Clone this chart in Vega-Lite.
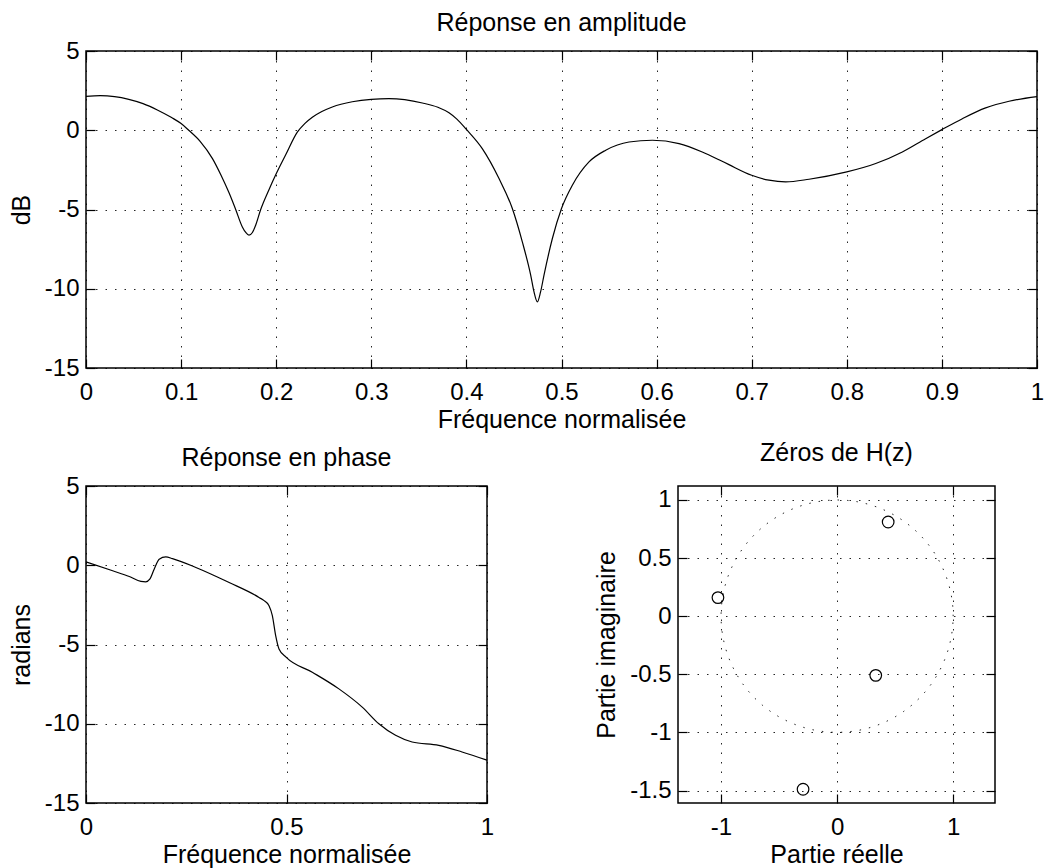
{
  "$schema": "https://vega.github.io/schema/vega-lite/v6.json",
  "background": "white",
  "padding": {"left": 8, "top": 10, "right": 5, "bottom": 5},
  "datasets": {
    "amp": [
      {"f": 0, "db": 2.14}, {"f": 0.015, "db": 2.18}, {"f": 0.03, "db": 2.12}, {"f": 0.045, "db": 1.95},
      {"f": 0.06, "db": 1.68}, {"f": 0.075, "db": 1.28}, {"f": 0.09, "db": 0.8}, {"f": 0.1, "db": 0.42},
      {"f": 0.108, "db": 0}, {"f": 0.12, "db": -0.7}, {"f": 0.133, "db": -1.79}, {"f": 0.142, "db": -2.84},
      {"f": 0.1504, "db": -3.95}, {"f": 0.1574, "db": -5.0}, {"f": 0.1644, "db": -6.1}, {"f": 0.168, "db": -6.45},
      {"f": 0.1714, "db": -6.62}, {"f": 0.175, "db": -6.45}, {"f": 0.1784, "db": -5.99}, {"f": 0.1837, "db": -5.0},
      {"f": 0.1924, "db": -3.75}, {"f": 0.2, "db": -2.75}, {"f": 0.21, "db": -1.55}, {"f": 0.2222, "db": -0.12},
      {"f": 0.23, "db": 0.42}, {"f": 0.238, "db": 0.82}, {"f": 0.248, "db": 1.18}, {"f": 0.259, "db": 1.47},
      {"f": 0.28, "db": 1.8}, {"f": 0.3, "db": 1.95}, {"f": 0.3186, "db": 1.99}, {"f": 0.3537, "db": 1.72},
      {"f": 0.37, "db": 1.45}, {"f": 0.3817, "db": 1.1}, {"f": 0.39, "db": 0.7}, {"f": 0.4, "db": 0.05},
      {"f": 0.4167, "db": -1.16}, {"f": 0.4343, "db": -3.05}, {"f": 0.4483, "db": -4.94}, {"f": 0.4588, "db": -7.04},
      {"f": 0.4676, "db": -9.14}, {"f": 0.4711, "db": -10.2}, {"f": 0.4746, "db": -10.83}, {"f": 0.478, "db": -10.2},
      {"f": 0.4816, "db": -9.14}, {"f": 0.4904, "db": -6.83}, {"f": 0.5, "db": -4.94}, {"f": 0.5114, "db": -3.47},
      {"f": 0.5289, "db": -2.0}, {"f": 0.5465, "db": -1.26}, {"f": 0.571, "db": -0.74}, {"f": 0.5955, "db": -0.63},
      {"f": 0.6236, "db": -0.84}, {"f": 0.648, "db": -1.37}, {"f": 0.6656, "db": -1.86}, {"f": 0.6761, "db": -2.17},
      {"f": 0.7, "db": -2.84}, {"f": 0.7182, "db": -3.15}, {"f": 0.7357, "db": -3.26}, {"f": 0.7603, "db": -3.09},
      {"f": 0.8, "db": -2.63}, {"f": 0.8304, "db": -2.1}, {"f": 0.8584, "db": -1.37}, {"f": 0.8829, "db": -0.53},
      {"f": 0.9, "db": 0.04}, {"f": 0.9215, "db": 0.73}, {"f": 0.946, "db": 1.41}, {"f": 0.9706, "db": 1.83},
      {"f": 1.0, "db": 2.12}
    ],
    "phase": [
      {"f": 0, "rad": 0.21}, {"f": 0.0664, "rad": -0.35}, {"f": 0.1079, "rad": -0.71}, {"f": 0.137, "rad": -1.02},
      {"f": 0.149, "rad": -1.05}, {"f": 0.159, "rad": -0.88}, {"f": 0.17, "rad": -0.25}, {"f": 0.1825, "rad": 0.38},
      {"f": 0.199, "rad": 0.53}, {"f": 0.2157, "rad": 0.42}, {"f": 0.274, "rad": -0.14}, {"f": 0.357, "rad": -1.09},
      {"f": 0.4315, "rad": -2.03}, {"f": 0.445, "rad": -2.25}, {"f": 0.4564, "rad": -2.55}, {"f": 0.4647, "rad": -3.18},
      {"f": 0.473, "rad": -4.44}, {"f": 0.4813, "rad": -5.28}, {"f": 0.4995, "rad": -5.81}, {"f": 0.5643, "rad": -6.75},
      {"f": 0.6307, "rad": -7.8}, {"f": 0.6888, "rad": -8.95}, {"f": 0.7303, "rad": -10.0}, {"f": 0.772, "rad": -10.73},
      {"f": 0.8133, "rad": -11.15}, {"f": 0.8797, "rad": -11.36}, {"f": 0.9378, "rad": -11.78}, {"f": 1.0, "rad": -12.3}
    ],
    "zeros": [
      {"re": 0.44, "im": 0.81}, {"re": -1.026, "im": 0.16}, {"re": 0.333, "im": -0.509}, {"re": -0.293, "im": -1.489}
    ],
    "circle": [
      {"a": 0, "re": 1, "im": 0}, {"a": 5, "re": 0.9962, "im": 0.0872}, {"a": 10, "re": 0.9848, "im": 0.1736},
      {"a": 15, "re": 0.9659, "im": 0.2588}, {"a": 20, "re": 0.9397, "im": 0.342}, {"a": 25, "re": 0.9063, "im": 0.4226},
      {"a": 30, "re": 0.866, "im": 0.5}, {"a": 35, "re": 0.8192, "im": 0.5736}, {"a": 40, "re": 0.766, "im": 0.6428},
      {"a": 45, "re": 0.7071, "im": 0.7071}, {"a": 50, "re": 0.6428, "im": 0.766}, {"a": 55, "re": 0.5736, "im": 0.8192},
      {"a": 60, "re": 0.5, "im": 0.866}, {"a": 65, "re": 0.4226, "im": 0.9063}, {"a": 70, "re": 0.342, "im": 0.9397},
      {"a": 75, "re": 0.2588, "im": 0.9659}, {"a": 80, "re": 0.1736, "im": 0.9848}, {"a": 85, "re": 0.0872, "im": 0.9962},
      {"a": 90, "re": 0, "im": 1}, {"a": 95, "re": -0.0872, "im": 0.9962}, {"a": 100, "re": -0.1736, "im": 0.9848},
      {"a": 105, "re": -0.2588, "im": 0.9659}, {"a": 110, "re": -0.342, "im": 0.9397}, {"a": 115, "re": -0.4226, "im": 0.9063},
      {"a": 120, "re": -0.5, "im": 0.866}, {"a": 125, "re": -0.5736, "im": 0.8192}, {"a": 130, "re": -0.6428, "im": 0.766},
      {"a": 135, "re": -0.7071, "im": 0.7071}, {"a": 140, "re": -0.766, "im": 0.6428}, {"a": 145, "re": -0.8192, "im": 0.5736},
      {"a": 150, "re": -0.866, "im": 0.5}, {"a": 155, "re": -0.9063, "im": 0.4226}, {"a": 160, "re": -0.9397, "im": 0.342},
      {"a": 165, "re": -0.9659, "im": 0.2588}, {"a": 170, "re": -0.9848, "im": 0.1736}, {"a": 175, "re": -0.9962, "im": 0.0872},
      {"a": 180, "re": -1, "im": 0}, {"a": 185, "re": -0.9962, "im": -0.0872}, {"a": 190, "re": -0.9848, "im": -0.1736},
      {"a": 195, "re": -0.9659, "im": -0.2588}, {"a": 200, "re": -0.9397, "im": -0.342}, {"a": 205, "re": -0.9063, "im": -0.4226},
      {"a": 210, "re": -0.866, "im": -0.5}, {"a": 215, "re": -0.8192, "im": -0.5736}, {"a": 220, "re": -0.766, "im": -0.6428},
      {"a": 225, "re": -0.7071, "im": -0.7071}, {"a": 230, "re": -0.6428, "im": -0.766}, {"a": 235, "re": -0.5736, "im": -0.8192},
      {"a": 240, "re": -0.5, "im": -0.866}, {"a": 245, "re": -0.4226, "im": -0.9063}, {"a": 250, "re": -0.342, "im": -0.9397},
      {"a": 255, "re": -0.2588, "im": -0.9659}, {"a": 260, "re": -0.1736, "im": -0.9848}, {"a": 265, "re": -0.0872, "im": -0.9962},
      {"a": 270, "re": 0, "im": -1}, {"a": 275, "re": 0.0872, "im": -0.9962}, {"a": 280, "re": 0.1736, "im": -0.9848},
      {"a": 285, "re": 0.2588, "im": -0.9659}, {"a": 290, "re": 0.342, "im": -0.9397}, {"a": 295, "re": 0.4226, "im": -0.9063},
      {"a": 300, "re": 0.5, "im": -0.866}, {"a": 305, "re": 0.5736, "im": -0.8192}, {"a": 310, "re": 0.6428, "im": -0.766},
      {"a": 315, "re": 0.7071, "im": -0.7071}, {"a": 320, "re": 0.766, "im": -0.6428}, {"a": 325, "re": 0.8192, "im": -0.5736},
      {"a": 330, "re": 0.866, "im": -0.5}, {"a": 335, "re": 0.9063, "im": -0.4226}, {"a": 340, "re": 0.9397, "im": -0.342},
      {"a": 345, "re": 0.9659, "im": -0.2588}, {"a": 350, "re": 0.9848, "im": -0.1736}, {"a": 355, "re": 0.9962, "im": -0.0872},
      {"a": 360, "re": 1, "im": 0}
    ]
  },
  "config": {
    "font": "Liberation Sans",
    "view": {"stroke": "black", "strokeWidth": 1.5},
    "axis": {
      "domain": false,
      "grid": true,
      "gridColor": "black",
      "gridDash": [1.5, 8],
      "gridWidth": 1,
      "gridOpacity": 0.85,
      "ticks": true,
      "tickColor": "black",
      "tickSize": -9,
      "tickWidth": 1.2,
      "labelFont": "Liberation Sans",
      "labelFontSize": 24,
      "labelColor": "black",
      "labelFlush": false,
      "labelOverlap": false,
      "labelExpr": "replace(datum.label, '−', '-')",
      "titleFont": "Liberation Sans",
      "titleFontSize": 25,
      "titleFontWeight": "normal",
      "titleColor": "black"
    },
    "axisX": {"labelPadding": 21, "titlePadding": 3},
    "axisY": {"labelPadding": 16, "titlePadding": 10},
    "title": {"font": "Liberation Sans", "fontSize": 25, "fontWeight": "normal", "color": "black", "anchor": "middle", "frame": "group", "baseline": "alphabetic", "offset": 3}
  },
  "vconcat": [
    {
      "title": "Réponse en amplitude",
      "width": 951,
      "height": 317,
      "data": {"name": "amp"},
      "layer": [
        {
          "mark": {"type": "line", "color": "black", "strokeWidth": 1.2, "interpolate": "monotone"},
          "encoding": {
            "x": {"field": "f", "type": "quantitative", "scale": {"domain": [0, 1], "nice": false, "zero": false},
                  "axis": {"title": "Fréquence normalisée", "values": [0, 0.1, 0.2, 0.3, 0.4, 0.5, 0.6, 0.7, 0.8, 0.9, 1], "format": "~g"}},
            "y": {"field": "db", "type": "quantitative", "scale": {"domain": [-15, 5], "nice": false, "zero": false},
                  "axis": {"title": "dB", "values": [-15, -10, -5, 0, 5], "format": "~g"}}
          }
        },
        {
          "mark": {"type": "line", "opacity": 0},
          "encoding": {
            "x": {"field": "f", "type": "quantitative", "scale": {"domain": [0, 1], "nice": false, "zero": false},
                  "axis": {"orient": "top", "labels": false, "title": null, "grid": false, "values": [0, 0.1, 0.2, 0.3, 0.4, 0.5, 0.6, 0.7, 0.8, 0.9, 1]}},
            "y": {"field": "db", "type": "quantitative", "scale": {"domain": [-15, 5], "nice": false, "zero": false},
                  "axis": {"orient": "right", "labels": false, "title": null, "grid": false, "values": [-15, -10, -5, 0, 5]}}
          }
        }
      ],
      "resolve": {"axis": {"x": "independent", "y": "independent"}}
    },
    {
      "hconcat": [
        {
          "title": "Réponse en phase",
          "width": 401,
          "height": 317,
          "data": {"name": "phase"},
          "layer": [
            {
              "mark": {"type": "line", "color": "black", "strokeWidth": 1.2, "interpolate": "monotone"},
              "encoding": {
                "x": {"field": "f", "type": "quantitative", "scale": {"domain": [0, 1], "nice": false, "zero": false},
                      "axis": {"title": "Fréquence normalisée", "values": [0, 0.5, 1], "format": "~g"}},
                "y": {"field": "rad", "type": "quantitative", "scale": {"domain": [-15, 5], "nice": false, "zero": false},
                      "axis": {"title": "radians", "values": [-15, -10, -5, 0, 5], "format": "~g"}}
              }
            },
            {
              "mark": {"type": "line", "opacity": 0},
              "encoding": {
                "x": {"field": "f", "type": "quantitative", "scale": {"domain": [0, 1], "nice": false, "zero": false},
                      "axis": {"orient": "top", "labels": false, "title": null, "grid": false, "values": [0, 0.5, 1]}},
                "y": {"field": "rad", "type": "quantitative", "scale": {"domain": [-15, 5], "nice": false, "zero": false},
                      "axis": {"orient": "right", "labels": false, "title": null, "grid": false, "values": [-15, -10, -5, 0, 5]}}
              }
            }
          ],
          "resolve": {"axis": {"x": "independent", "y": "independent"}}
        },
        {
          "title": {"text": "Zéros de H(z)", "offset": 19},
          "width": 317,
          "height": 317,
          "layer": [
            {
              "data": {"name": "circle"},
              "mark": {"type": "line", "color": "black", "strokeWidth": 1, "strokeDash": [1.5, 8], "opacity": 0.85},
              "encoding": {
                "x": {"field": "re", "type": "quantitative", "scale": {"domain": [-1.37, 1.36], "nice": false, "zero": false},
                      "axis": {"title": "Partie réelle", "values": [-1, 0, 1], "format": "~g"}},
                "y": {"field": "im", "type": "quantitative", "scale": {"domain": [-1.607, 1.12], "nice": false, "zero": false},
                      "axis": {"title": "Partie imaginaire", "values": [-1.5, -1, -0.5, 0, 0.5, 1], "format": "~g"}},
                "order": {"field": "a", "type": "quantitative"}
              }
            },
            {
              "data": {"name": "zeros"},
              "mark": {"type": "point", "shape": "circle", "filled": false, "stroke": "black", "strokeWidth": 1.2, "size": 135, "opacity": 1},
              "encoding": {
                "x": {"field": "re", "type": "quantitative", "scale": {"domain": [-1.37, 1.36], "nice": false, "zero": false},
                      "axis": {"orient": "top", "labels": false, "title": null, "grid": false, "values": [-1, 0, 1]}},
                "y": {"field": "im", "type": "quantitative", "scale": {"domain": [-1.607, 1.12], "nice": false, "zero": false},
                      "axis": {"orient": "right", "labels": false, "title": null, "grid": false, "values": [-1.5, -1, -0.5, 0, 0.5, 1]}}
              }
            }
          ],
          "resolve": {"axis": {"x": "independent", "y": "independent"}}
        }
      ],
      "spacing": 191,
      "bounds": "flush"
    }
  ],
  "spacing": 118,
  "bounds": "flush"
}
